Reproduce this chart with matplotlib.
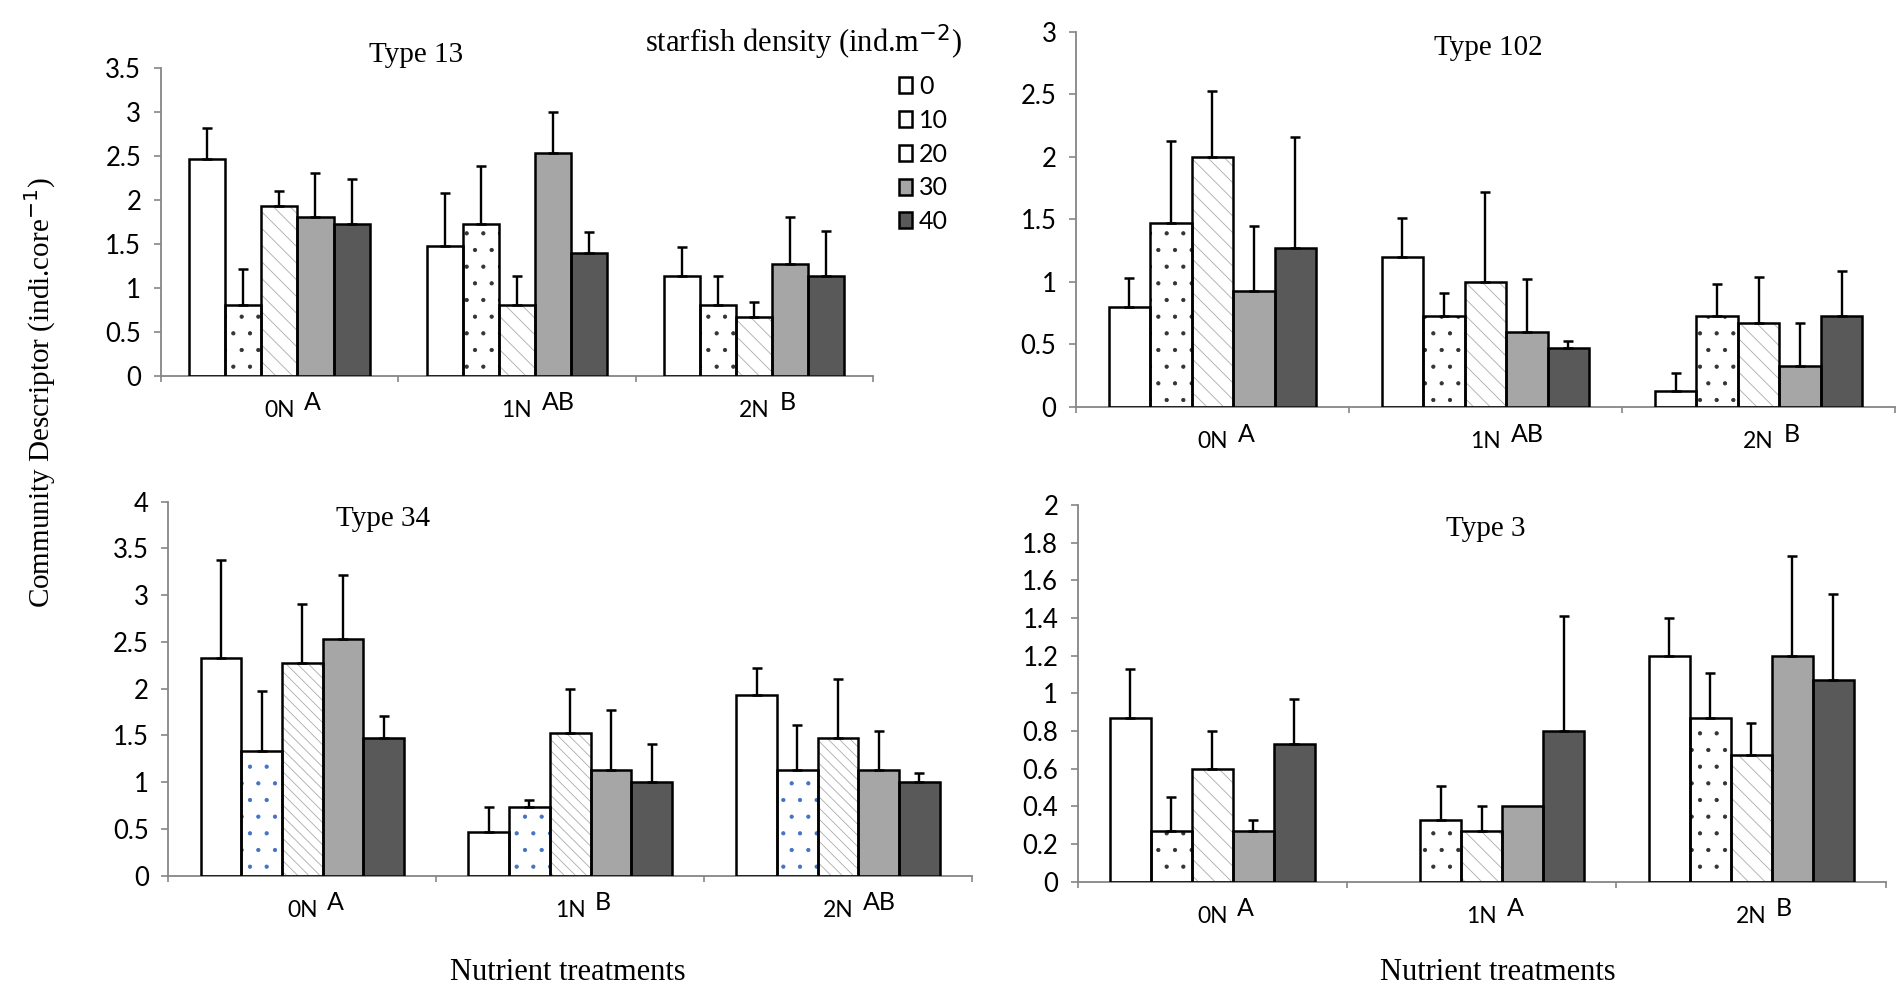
import numpy as np
import matplotlib
matplotlib.use('Agg')
import matplotlib.pyplot as plt
from matplotlib.patches import Patch

plt.rcParams['font.family'] = ['Lato', 'DejaVu Sans']
plt.rcParams['hatch.linewidth'] = 0.6

# Data
groups = ['0N', '1N', '2N']
densities = ['0', '10', '20', '30', '40']

t13_mean = [[2.47, 0.80, 1.93, 1.80, 1.73],
            [1.47, 1.73, 0.80, 2.53, 1.40],
            [1.13, 0.80, 0.67, 1.27, 1.13]]
t13_err = [[0.35, 0.41, 0.17, 0.50, 0.51],
           [0.61, 0.65, 0.33, 0.47, 0.23],
           [0.33, 0.33, 0.17, 0.54, 0.52]]
t13_letters = ['A', 'AB', 'B']

t102_mean = [[0.80, 1.47, 2.00, 0.93, 1.27],
             [1.20, 0.73, 1.00, 0.60, 0.47],
             [0.13, 0.73, 0.67, 0.33, 0.73]]
t102_err = [[0.23, 0.66, 0.53, 0.52, 0.89],
            [0.31, 0.18, 0.72, 0.42, 0.06],
            [0.14, 0.25, 0.37, 0.34, 0.36]]
t102_letters = ['A', 'AB', 'B']

t34_mean = [[2.33, 1.33, 2.27, 2.53, 1.47],
            [0.47, 0.73, 1.53, 1.13, 1.00],
            [1.93, 1.13, 1.47, 1.13, 1.00]]
t34_err = [[1.05, 0.64, 0.64, 0.68, 0.24],
           [0.26, 0.08, 0.47, 0.64, 0.41],
           [0.29, 0.48, 0.63, 0.42, 0.10]]
t34_letters = ['A', 'B', 'AB']

t3_mean = [[0.87, 0.27, 0.60, 0.27, 0.73],
           [0.00, 0.33, 0.27, 0.40, 0.80],
           [1.20, 0.87, 0.67, 1.20, 1.07]]
t3_err = [[0.26, 0.18, 0.20, 0.06, 0.24],
          [0.00, 0.18, 0.13, 0.00, 0.61],
          [0.20, 0.24, 0.17, 0.53, 0.46]]
t3_letters = ['A', 'A', 'B']

fills = ['white', 'white', 'white', '#a6a6a6', '#595959']
axis_grey = '#868686'
serif = 'Liberation Serif'


def draw_panel(ax, means, errs, letters, ymax, ystep, dot_color, hatch20):
    means = np.array(means)
    errs = np.array(errs)
    gx = np.arange(len(groups))
    w = 0.152
    hatches = ['', '.', hatch20, '', '']
    hatch_cols = ['white', dot_color, '#ababab', fills[3], fills[4]]
    for i in range(len(densities)):
        x = gx + (i - 2) * w
        y = means[:, i]
        e = errs[:, i]
        keep = y > 0
        # fill + pattern, then black outline on top
        ax.bar(x[keep], y[keep], w, color=fills[i], edgecolor=hatch_cols[i],
               hatch=hatches[i], linewidth=0, zorder=2)
        ax.bar(x[keep], y[keep], w, fill=False, edgecolor='black',
               linewidth=1.8, zorder=3)
        ke = e > 0
        ax.errorbar(x[ke], y[ke], yerr=[np.zeros(ke.sum()), e[ke]], fmt='none',
                    ecolor='black', elinewidth=1.7, capsize=3.6, capthick=1.8,
                    zorder=4)

    ax.set_xlim(-0.5, len(groups) - 0.5)
    ax.set_ylim(0, ymax)
    ax.set_yticks(np.arange(0, ymax + ystep / 2, ystep))
    ax.yaxis.set_major_formatter(plt.FuncFormatter(lambda v, p: f'{v:g}'))
    ax.set_xticks(np.arange(-0.5, len(groups), 1.0))
    ax.set_xticklabels([])
    for s in ['top', 'right']:
        ax.spines[s].set_visible(False)
    for s in ['left', 'bottom']:
        ax.spines[s].set_color(axis_grey)
        ax.spines[s].set_linewidth(1.3)
    ax.tick_params(axis='y', direction='out', length=5, width=1.2,
                   color=axis_grey, labelsize=18.5, pad=9)
    ax.tick_params(axis='x', direction='out', length=4.5, width=1.2,
                   color=axis_grey)

    for g, lab, let in zip(gx, groups, letters):
        ax.annotate(lab, xy=(g, 0), xycoords=('data', 'axes fraction'),
                    xytext=(0, -25), textcoords='offset points',
                    ha='center', va='center', fontsize=16.5)
        ax.annotate(let, xy=(g, 0), xycoords=('data', 'axes fraction'),
                    xytext=(18, -19.5), textcoords='offset points',
                    ha='left', va='center', fontsize=18)


fig = plt.figure(figsize=(18.99, 9.89), dpi=100)

ax1 = fig.add_axes([0.0846, 0.6203, 0.3751, 0.3109])
ax2 = fig.add_axes([0.5666, 0.5885, 0.4313, 0.3792])
ax3 = fig.add_axes([0.0887, 0.1146, 0.4231, 0.3782])
ax4 = fig.add_axes([0.5675, 0.1085, 0.4256, 0.3809])

draw_panel(ax1, t13_mean, t13_err, t13_letters, 3.5, 0.5, '#333333', '\\\\')
draw_panel(ax2, t102_mean, t102_err, t102_letters, 3.0, 0.5, '#333333', '\\\\')
draw_panel(ax3, t34_mean, t34_err, t34_letters, 4.0, 0.5, '#4472c4', '\\\\\\')
draw_panel(ax4, t3_mean, t3_err, t3_letters, 2.0, 0.2, '#333333', '\\\\')

# Panel titles
fig.text(0.219, 0.944, 'Type 13', family=serif, fontsize=21, ha='center', va='center')
fig.text(0.7836, 0.9515, 'Type 102', family=serif, fontsize=21, ha='center', va='center')
fig.text(0.2017, 0.4752, 'Type 34', family=serif, fontsize=21, ha='center', va='center')
fig.text(0.7825, 0.4651, 'Type 3', family=serif, fontsize=21, ha='center', va='center')

# Axis labels
fig.text(0.2988, 0.017, 'Nutrient treatments', family=serif, fontsize=22,
         ha='center', va='center')
fig.text(0.7888, 0.017, 'Nutrient treatments', family=serif, fontsize=22,
         ha='center', va='center')
fig.text(0.021, 0.603, r'Community Descriptor (indi.core$^{-1}$)', family=serif,
         fontsize=21, rotation=90, ha='center', va='center')

# Legend
fig.text(0.423, 0.957, r'starfish density (ind.m$^{-2}$)', family=serif,
         fontsize=22, ha='center', va='center')
handles = [Patch(facecolor=c, edgecolor='black', linewidth=1.8) for c in fills]
fig.legend(handles, densities, loc='upper left', bbox_to_anchor=(0.4735, 0.924),
           bbox_transform=fig.transFigure, frameon=False, fontsize=18,
           handlelength=0.5, handleheight=0.6, handletextpad=0.3,
           labelspacing=0.43, borderpad=0, borderaxespad=0)

fig.savefig('out.png', dpi=100)
